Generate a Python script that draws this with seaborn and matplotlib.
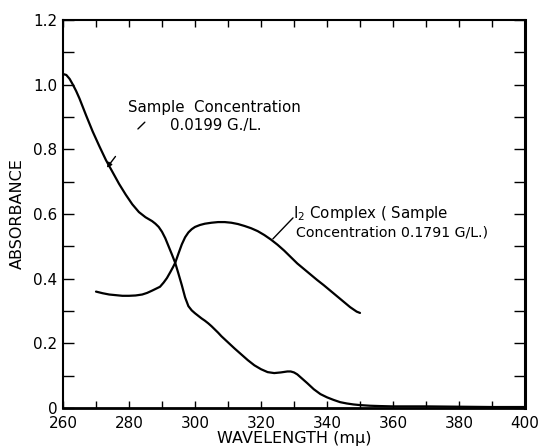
import numpy as np
import pandas as pd
import matplotlib
matplotlib.use("Agg")
import matplotlib.pyplot as plt
from matplotlib.ticker import MultipleLocator, FixedLocator, FixedFormatter
import seaborn as sns

# Absorption spectrum of the sample alone (0.0199 g/L)
sample_wl = [260, 261, 262, 263, 264, 265, 267, 269, 271, 273, 275, 277, 279,
             281, 283, 285, 287, 288, 289, 290, 291, 292, 293, 294, 295, 296,
             297, 298, 299, 300, 301, 302, 303, 304, 305, 306, 307, 308, 310,
             312, 314, 316, 318, 320, 322, 324, 326, 328, 329, 330, 331, 332,
             333, 334, 336, 338, 340, 342, 344, 346, 348, 350, 353, 356, 360,
             370, 380, 390, 400]
sample_abs = [1.033, 1.030, 1.018, 1.000, 0.980, 0.957, 0.905, 0.855, 0.810,
              0.767, 0.730, 0.693, 0.660, 0.630, 0.606, 0.590, 0.578, 0.570,
              0.560, 0.545, 0.525, 0.500, 0.475, 0.449, 0.415, 0.380, 0.342,
              0.315, 0.302, 0.293, 0.285, 0.277, 0.270, 0.262, 0.253, 0.243,
              0.233, 0.222, 0.203, 0.184, 0.166, 0.148, 0.132, 0.120, 0.111,
              0.108, 0.110, 0.113, 0.113, 0.110, 0.104, 0.095, 0.086, 0.077,
              0.058, 0.043, 0.033, 0.025, 0.018, 0.014, 0.011, 0.009, 0.007,
              0.006, 0.005, 0.005, 0.004, 0.003, 0.003]

# Absorption spectrum of the I2 complex (0.1791 g/L)
complex_wl = [270, 272, 274, 276, 278, 280, 282, 284, 285.5, 287, 288, 289.4,
              290.5, 291.5, 292.5, 293.3, 294, 295, 296, 297, 298, 299, 300,
              301.5, 303, 305, 307, 309, 311, 313, 315, 317, 319, 321, 323,
              325, 327, 329, 331, 333, 335, 337, 339, 341, 343, 345, 347, 349,
              350]
complex_abs = [0.360, 0.355, 0.351, 0.349, 0.347, 0.347, 0.348, 0.351, 0.356,
               0.363, 0.368, 0.375, 0.388, 0.402, 0.420, 0.435, 0.449, 0.478,
               0.506, 0.528, 0.543, 0.553, 0.560, 0.566, 0.570, 0.573, 0.575,
               0.575, 0.573, 0.569, 0.563, 0.556, 0.547, 0.535, 0.521, 0.505,
               0.487, 0.467, 0.447, 0.430, 0.413, 0.396, 0.380, 0.363, 0.346,
               0.329, 0.312, 0.298, 0.294]

x_ticks = [260, 280, 300, 320, 340, 360, 380, 400]
y_ticks = [0, 0.2, 0.4, 0.6, 0.8, 1.0, 1.2]
y_tick_labels = ["0", "0.2", "0.4", "0.6", "0.8", "1.0", "1.2"]

df = pd.concat([
    pd.DataFrame({"wavelength": sample_wl, "absorbance": sample_abs,
                  "series": "sample"}),
    pd.DataFrame({"wavelength": complex_wl, "absorbance": complex_abs,
                  "series": "complex"}),
])

sns.set_style("ticks")
plt.rcParams["font.family"] = ["DejaVu Sans"]
plt.rcParams["text.color"] = "black"
plt.rcParams["axes.labelcolor"] = "black"

fig = plt.figure(figsize=(5.4, 4.46), dpi=100)
ax = fig.add_axes([63 / 540, 1 - 408 / 446, 462 / 540, 388 / 446])

sns.lineplot(data=df, x="wavelength", y="absorbance", units="series",
             estimator=None, color="black", linewidth=1.6, sort=False, ax=ax)

ax.set_xlim(260, 400)
ax.set_ylim(0, 1.2)
ax.xaxis.set_major_locator(FixedLocator(x_ticks))
ax.xaxis.set_minor_locator(MultipleLocator(10))
ax.yaxis.set_major_locator(FixedLocator(y_ticks))
ax.yaxis.set_major_formatter(FixedFormatter(y_tick_labels))
ax.yaxis.set_minor_locator(MultipleLocator(0.1))

ax.tick_params(axis="both", which="both", direction="in", top=True,
               right=True, color="black", width=1.0)
ax.tick_params(axis="x", which="both", length=5)
ax.tick_params(axis="y", which="both", length=8)
ax.tick_params(axis="both", which="major", labelsize=11, labelcolor="black")
ax.tick_params(axis="x", which="major", pad=6)
ax.tick_params(axis="y", which="major", pad=4)

for side in ["left", "right", "top", "bottom"]:
    ax.spines[side].set_visible(True)
    ax.spines[side].set_color("black")
ax.spines["left"].set_linewidth(1.5)
ax.spines["top"].set_linewidth(1.5)
ax.spines["right"].set_linewidth(2.2)
ax.spines["bottom"].set_linewidth(2.0)

ax.set_xlabel("WAVELENGTH (mμ)", fontsize=11.5, labelpad=0, color="black")
ax.set_ylabel("ABSORBANCE", fontsize=11.5, labelpad=6, color="black")

# Curve labels with leader marks
ax.text(279.7, 0.928, "Sample  Concentration", fontsize=10.8, va="center",
        ha="left", color="black")
ax.text(292.5, 0.875, "0.0199 G./L.", fontsize=10.8, va="center", ha="left",
        color="black")
ax.plot([282.7, 284.8], [0.863, 0.884], color="black", lw=1.0)
ax.annotate("", xy=(273.3, 0.743), xytext=(275.9, 0.778),
            arrowprops=dict(arrowstyle="-|>", color="black", lw=1.0,
                            mutation_scale=7, shrinkA=0, shrinkB=0))

ax.text(329.8, 0.603, "I$_2$ Complex ( Sample", fontsize=10.8, va="center",
        ha="left", color="black")
ax.text(330.6, 0.544, "Concentration 0.1791 G/L.)", fontsize=10.2,
        va="center", ha="left", color="black")
ax.plot([323.6, 329.7], [0.523, 0.588], color="black", lw=1.0)

fig.savefig("out.png", dpi=100)
